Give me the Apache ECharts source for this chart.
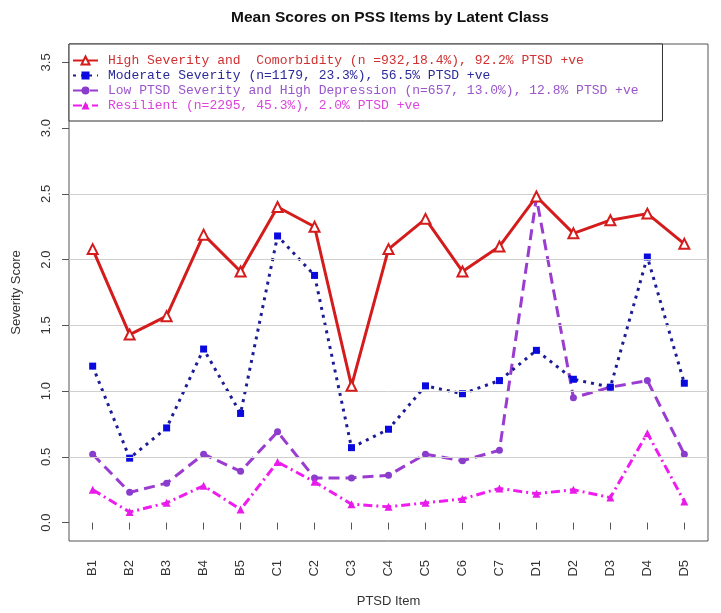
<!DOCTYPE html>
<html>
<head>
<meta charset="utf-8">
<title>Mean Scores on PSS Items by Latent Class</title>
<script src="https://cdn.jsdelivr.net/npm/echarts@6/dist/echarts.min.js"></script>
<style>
  html, body { margin: 0; padding: 0; background: #fff; }
  #chart { width: 721px; height: 613px; }
</style>
</head>
<body>
<div id="chart"></div>
<script>
const items = ['B1', 'B2', 'B3', 'B4', 'B5', 'C1', 'C2', 'C3', 'C4', 'C5', 'C6', 'C7', 'D1', 'D2', 'D3', 'D4', 'D5'];

const highSeverity = [2.08, 1.43, 1.57, 2.19, 1.91, 2.40, 2.25, 1.04, 2.08, 2.31, 1.91, 2.10, 2.48, 2.20, 2.30, 2.35, 2.12];
const moderate     = [1.19, 0.49, 0.72, 1.32, 0.83, 2.18, 1.88, 0.57, 0.71, 1.04, 0.98, 1.08, 1.31, 1.09, 1.03, 2.02, 1.06];
const lowPtsd      = [0.52, 0.23, 0.30, 0.52, 0.39, 0.69, 0.34, 0.34, 0.36, 0.52, 0.47, 0.55, 2.47, 0.95, 1.03, 1.08, 0.52];
const resilient    = [0.25, 0.08, 0.15, 0.28, 0.10, 0.46, 0.31, 0.14, 0.12, 0.15, 0.18, 0.26, 0.22, 0.25, 0.19, 0.68, 0.16];

const yTicks = [0, 0.5, 1, 1.5, 2, 2.5, 3, 3.5];
const gridValues = [0.5, 1, 1.5, 2, 2.5];

const names = [
  'High Severity and  Comorbidity (n =932,18.4%), 92.2% PTSD +ve',
  'Moderate Severity (n=1179, 23.3%), 56.5% PTSD +ve',
  'Low PTSD Severity and High Depression (n=657, 13.0%), 12.8% PTSD +ve',
  'Resilient (n=2295, 45.3%), 2.0% PTSD +ve'
];

// x positions 1..17, like R's default plot
const xs = items.map((_, i) => i + 1);
const toPoints = arr => arr.map((v, i) => [xs[i], v]);

const chart = echarts.init(document.getElementById('chart'));

const axisFont = { fontFamily: 'Liberation Sans, Arial, sans-serif', fontSize: 13, color: '#333' };

chart.setOption({
  animation: false,
  backgroundColor: '#fff',
  title: {
    text: 'Mean Scores on PSS Items by Latent Class',
    left: 385,
    top: 5,
    textAlign: 'center',
    textStyle: { fontFamily: 'Liberation Sans, Arial, sans-serif', fontSize: 15.5, fontWeight: 'bold', color: '#111' }
  },
  grid: {
    left: 69, right: 13, top: 44, bottom: 67,
    show: true,
    borderColor: '#555',
    borderWidth: 1
  },
  legend: {
    data: names.map((n, i) => ({
      name: n,
      textStyle: { color: ['#d03030', '#2a2a9a', '#9955cc', '#dd44dd'][i] }
    })),
    orient: 'vertical',
    left: 69,
    top: 44,
    padding: [9, 24, 8, 3],
    itemGap: 0,
    itemWidth: 25,
    itemHeight: 10,
    backgroundColor: '#fff',
    borderColor: '#333',
    borderWidth: 1,
    borderRadius: 0,
    selectedMode: false,
    textStyle: {
      fontFamily: 'Liberation Mono, Courier New, monospace',
      fontSize: 13,
      lineHeight: 15,
      padding: [0, 0, 0, 5]
    }
  },
  xAxis: {
    type: 'value',
    min: 0.36,
    max: 17.64,
    name: 'PTSD Item',
    nameLocation: 'middle',
    nameGap: 54,
    nameTextStyle: axisFont,
    axisLine: { show: false },
    splitLine: { show: false },
    axisTick: { show: true, length: 7, customValues: xs, lineStyle: { color: '#555' } },
    axisLabel: {
      customValues: xs,
      rotate: 90,
      margin: 19,
      formatter: v => items[Math.round(v) - 1] || '',
      ...axisFont
    }
  },
  yAxis: {
    type: 'value',
    min: -0.14,
    max: 3.64,
    name: 'Severity Score',
    nameLocation: 'middle',
    nameGap: 46,
    nameRotate: 90,
    nameTextStyle: axisFont,
    axisLine: { show: false },
    splitLine: { show: false },
    axisTick: { show: true, length: 7, customValues: yTicks, lineStyle: { color: '#555' } },
    axisLabel: {
      customValues: yTicks,
      rotate: 90,
      margin: 16,
      formatter: v => v.toFixed(1),
      ...axisFont
    }
  },
  series: [
    {
      name: 'gridlines',
      type: 'line',
      data: [],
      silent: true,
      z: 1,
      markLine: {
        silent: true,
        symbol: 'none',
        label: { show: false },
        lineStyle: { color: '#cfcfcf', type: 'solid', width: 1 },
        data: gridValues.map(v => ({ yAxis: v }))
      }
    },
    {
      name: names[0],
      type: 'line',
      data: toPoints(highSeverity),
      z: 5,
      symbol: 'triangle',
      symbolSize: 10,
      lineStyle: { color: '#d41c1c', width: 3, type: 'solid' },
      itemStyle: { color: '#ffffff', borderColor: '#d41c1c', borderWidth: 2 }
    },
    {
      name: names[1],
      type: 'line',
      data: toPoints(moderate),
      z: 4,
      symbol: 'rect',
      symbolSize: 7,
      lineStyle: { color: '#1c1c96', width: 3, type: [3, 5] },
      itemStyle: { color: '#0a0ae0' }
    },
    {
      name: names[2],
      type: 'line',
      data: toPoints(lowPtsd),
      z: 3,
      symbol: 'circle',
      symbolSize: 7,
      lineStyle: { color: '#9a3cd0', width: 3, type: [11, 6] },
      itemStyle: { color: '#8a3ccc' }
    },
    {
      name: names[3],
      type: 'line',
      data: toPoints(resilient),
      z: 3,
      symbol: 'triangle',
      symbolSize: 8,
      lineStyle: { color: '#ee1cee', width: 3, type: [9, 4, 2, 4] },
      itemStyle: { color: '#e81ce8' }
    }
  ]
});
</script>
</body>
</html>
